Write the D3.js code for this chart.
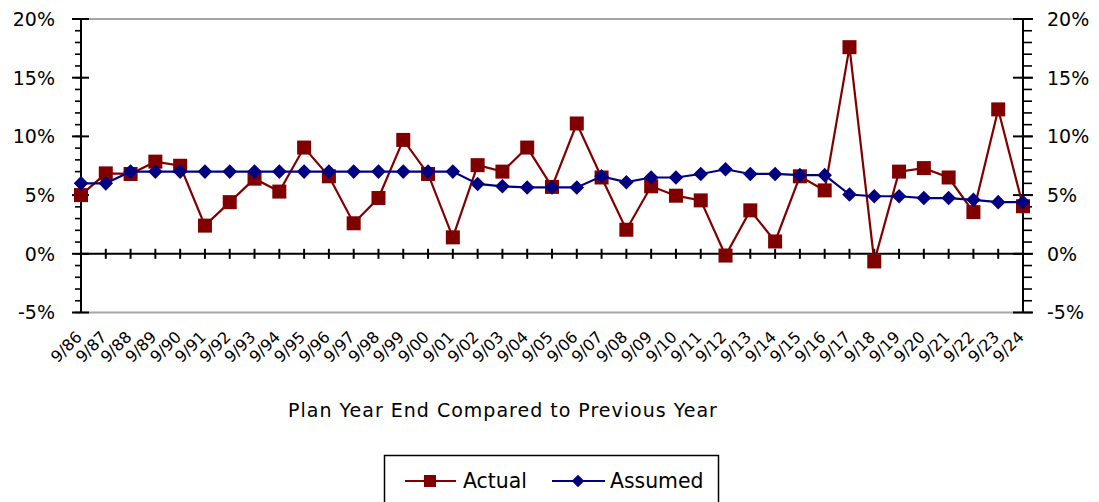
<!DOCTYPE html>
<html><head><meta charset="utf-8">
<script src="https://cdn.jsdelivr.net/npm/d3@7"></script>
<style>
body{margin:0;background:#fff}
svg{display:block}
text{font-family:"DejaVu Sans",sans-serif;fill:#000}
</style>
</head><body>
<svg id="c" width="1099" height="502"></svg>
<script>
const categories = ["9/86","9/87","9/88","9/89","9/90","9/91","9/92","9/93","9/94","9/95","9/96","9/97","9/98","9/99",
  "9/00","9/01","9/02","9/03","9/04","9/05","9/06","9/07","9/08","9/09","9/10","9/11","9/12","9/13","9/14","9/15",
  "9/16","9/17","9/18","9/19","9/20","9/21","9/22","9/23","9/24"];
const actual = [5.0,6.85,6.8,7.85,7.5,2.4,4.4,6.4,5.3,9.05,6.6,2.6,4.75,9.7,
  6.8,1.4,7.55,7.0,9.05,5.7,11.1,6.5,2.05,5.75,4.95,4.55,-0.15,3.7,1.05,6.6,
  5.4,17.6,-0.65,7.0,7.3,6.5,3.55,12.3,4.05];
const assumed = [6.0,6.0,7.0,7.0,7.0,7.0,7.0,7.0,7.0,7.0,7.0,7.0,7.0,7.0,
  7.0,7.0,5.95,5.75,5.65,5.65,5.65,6.6,6.1,6.5,6.5,6.8,7.2,6.8,6.8,6.7,
  6.7,5.05,4.9,4.9,4.75,4.75,4.6,4.4,4.4];
const yTickValues = [-5,0,5,10,15,20];
const yDomain = [-5,20];
const seriesNames = ["Actual","Assumed"];
const xTitle = "Plan Year End Compared to Previous Year";

(function(){
const svg = d3.select("#c");
const L = 81, R = 1023, T = 19, B = 312.5;
const x = d3.scalePoint().domain(categories).range([L,R]).padding(0);
const y = d3.scaleLinear().domain(yDomain).range([B,T]);
const red = "#800000", blue = "#000080";

// plot-area border top & bottom
svg.append("line").attr("x1",L).attr("x2",R).attr("y1",y(20)).attr("y2",y(20)).attr("stroke","#a6a6a6").attr("stroke-width",2);
svg.append("line").attr("x1",L).attr("x2",R).attr("y1",y(-5)).attr("y2",y(-5)).attr("stroke","#a6a6a6").attr("stroke-width",2);

const minor = y.ticks(25);
// left axis
const gl = svg.append("g");
gl.append("line").attr("x1",L).attr("x2",L).attr("y1",y(20)).attr("y2",y(-5)).attr("stroke","#000").attr("stroke-width",2);
gl.selectAll("line.mn").data(minor).join("line").attr("class","mn").attr("x1",L-6).attr("x2",L).attr("y1",d=>y(d)).attr("y2",d=>y(d)).attr("stroke","#000").attr("stroke-width",1.6);
gl.selectAll("line.mj").data(yTickValues).join("line").attr("class","mj").attr("x1",L-9).attr("x2",L+8).attr("y1",d=>y(d)).attr("y2",d=>y(d)).attr("stroke","#000").attr("stroke-width",2);
gl.selectAll("text").data(yTickValues).join("text").attr("x",55).attr("y",d=>y(d)).attr("dy","0.36em")
  .attr("text-anchor","end").style("font-size","19px").text(d=>d+"%");
// right axis
const gr = svg.append("g");
gr.append("line").attr("x1",R).attr("x2",R).attr("y1",y(20)).attr("y2",y(-5)).attr("stroke","#000").attr("stroke-width",2);
gr.selectAll("line.mn").data(minor).join("line").attr("class","mn").attr("x1",R).attr("x2",R+9).attr("y1",d=>y(d)).attr("y2",d=>y(d)).attr("stroke","#000").attr("stroke-width",1.6);
gr.selectAll("line.mj").data(yTickValues).join("line").attr("class","mj").attr("x1",R-10).attr("x2",R+10).attr("y1",d=>y(d)).attr("y2",d=>y(d)).attr("stroke","#000").attr("stroke-width",2);
gr.selectAll("text").data(yTickValues).join("text").attr("x",1047).attr("y",d=>y(d)).attr("dy","0.36em")
  .attr("text-anchor","start").style("font-size","19px").text(d=>d+"%");

// x axis at 0
const gx = svg.append("g");
gx.append("line").attr("x1",L).attr("x2",R).attr("y1",y(0)).attr("y2",y(0)).attr("stroke","#000").attr("stroke-width",2);
gx.selectAll("line.t").data(categories).join("line").attr("class","t").attr("x1",d=>x(d)).attr("x2",d=>x(d)).attr("y1",y(0)-5).attr("y2",y(0)+5).attr("stroke","#000").attr("stroke-width",2);
// category labels
svg.append("g").selectAll("text").data(categories).join("text")
  .attr("transform",d=>`translate(${x(d)+2},338) rotate(-45)`)
  .attr("text-anchor","end").style("font-size","16px").text(d=>d);

// axis title
svg.append("text").attr("x",503).attr("y",417).attr("text-anchor","middle").style("font-size","19px").style("letter-spacing","1.0px").text(xTitle);

// series
const line = d3.line().x((d,i)=>x(categories[i])).y(d=>y(d));
svg.append("path").attr("d",line(actual)).attr("fill","none").attr("stroke",red).attr("stroke-width",2.2);
svg.append("g").selectAll("rect").data(actual).join("rect")
  .attr("x",(d,i)=>x(categories[i])-7).attr("y",d=>y(d)-7).attr("width",14).attr("height",14).attr("fill",red);
svg.append("path").attr("d",line(assumed)).attr("fill","none").attr("stroke",blue).attr("stroke-width",2.2);
const diamond = d3.symbol().type(d3.symbolDiamond2).size(135);
svg.append("g").selectAll("path").data(assumed).join("path")
  .attr("transform",(d,i)=>`translate(${x(categories[i])},${y(d)})`).attr("d",diamond).attr("fill",blue);

// legend
const lg = svg.append("g");
lg.append("rect").attr("x",384.5).attr("y",455.5).attr("width",334).attr("height",60).attr("fill","none").attr("stroke","#000").attr("stroke-width",1.5);
lg.append("line").attr("x1",405).attr("x2",456).attr("y1",481).attr("y2",481).attr("stroke",red).attr("stroke-width",2);
lg.append("rect").attr("x",430-6).attr("y",481-6).attr("width",12).attr("height",12).attr("fill",red);
lg.append("text").attr("x",463).attr("y",488).style("font-size","20.4px").text(seriesNames[0]);
lg.append("line").attr("x1",552).attr("x2",605).attr("y1",481).attr("y2",481).attr("stroke",blue).attr("stroke-width",2);
lg.append("path").attr("transform","translate(578,481)").attr("d",d3.symbol().type(d3.symbolDiamond2).size(100)).attr("fill",blue);
lg.append("text").attr("x",610).attr("y",488).style("font-size","20.4px").text(seriesNames[1]);
})();
</script>
</body></html>
